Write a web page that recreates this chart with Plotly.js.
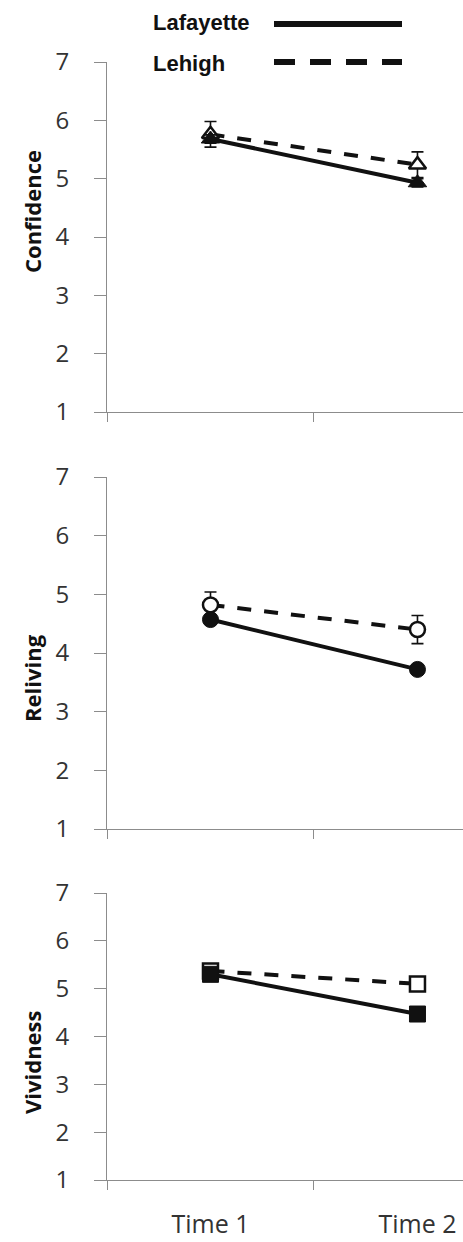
<!DOCTYPE html>
<html>
<head>
<meta charset="utf-8">
<script src="https://cdn.plot.ly/plotly-3.0.1.min.js"></script>
<style>html,body{margin:0;padding:0;background:#fff;}#chart{width:463px;height:1242px;}</style>
</head>
<body>
<div id="chart"></div>
<script>
const categories = ['Time 1', 'Time 2'];
const seriesNames = ['Lafayette', 'Lehigh'];
const panelTitles = ['Confidence', 'Reliving', 'Vividness'];
const yTicks = [1, 2, 3, 4, 5, 6, 7];

const confLafayette = [5.68, 4.93];
const confLafayetteErr = [0.07, 0.07];
const confLehigh = [5.76, 5.24];
const confLehighErr = [0.22, 0.22];

const relLafayette = [4.57, 3.72];
const relLafayetteErr = [0.08, 0.08];
const relLehigh = [4.82, 4.40];
const relLehighErr = [0.22, 0.24];

const vivLafayette = [5.30, 4.47];
const vivLafayetteErr = [0.08, 0.07];
const vivLehigh = [5.37, 5.10];
const vivLehighErr = [0.12, 0.13];

const panels = [
  {laf: confLafayette, lafErr: confLafayetteErr, leh: confLehigh, lehErr: confLehighErr, sym: 'triangle-up'},
  {laf: relLafayette, lafErr: relLafayetteErr, leh: relLehigh, lehErr: relLehighErr, sym: 'circle'},
  {laf: vivLafayette, lafErr: vivLafayetteErr, leh: vivLehigh, lehErr: vivLehighErr, sym: 'square'}
];

const W = 463, H = 1242;
const py = v => 1 - v / H;
const px = v => v / W;
const panelPx = [[62, 412], [477, 829], [893, 1180]];
const titlePx = [212, 678, 1062];

const traces = [];
panels.forEach((p, i) => {
  const ax = i === 0 ? '' : String(i + 1);
  traces.push({
    x: categories, y: p.leh, type: 'scatter', mode: 'lines+markers', name: seriesNames[1],
    xaxis: 'x' + ax, yaxis: 'y' + ax, showlegend: false, cliponaxis: false,
    line: {color: '#111', width: 4, dash: '14px,13px'},
    marker: {symbol: p.sym, size: 15, color: '#fff', line: {color: '#111', width: 2.5}},
    error_y: {type: 'data', array: p.lehErr, visible: true, color: '#111', thickness: 1.6, width: 6}
  });
  traces.push({
    x: categories, y: p.laf, type: 'scatter', mode: 'lines+markers', name: seriesNames[0],
    xaxis: 'x' + ax, yaxis: 'y' + ax, showlegend: false, cliponaxis: false,
    line: {color: '#111', width: 4},
    marker: {symbol: p.sym, size: 16, color: '#111', line: {color: '#111', width: 1}},
    error_y: {type: 'data', array: p.lafErr, visible: true, color: '#111', thickness: 1.6, width: 6}
  });
});

const layout = {
  width: W, height: H,
  margin: {l: 0, r: 0, t: 0, b: 0},
  paper_bgcolor: '#fff', plot_bgcolor: '#fff',
  showlegend: false,
  font: {family: 'Open Sans, sans-serif', color: '#333'},
  annotations: [],
  shapes: []
};

panels.forEach((p, i) => {
  const ax = i === 0 ? '' : String(i + 1);
  layout['xaxis' + ax] = {
    type: 'category', domain: [px(107), 1], range: [-0.5, 1.22],
    anchor: 'y' + ax, showline: true, linecolor: '#8c8c8c', linewidth: 1,
    ticks: 'outside', ticklen: 9, tickcolor: '#8c8c8c', tickson: 'boundaries',
    showgrid: false, zeroline: false,
    showticklabels: i === 2, ticklabelstandoff: 22,
    tickfont: {family: 'Open Sans, sans-serif', size: 25, color: '#333'}
  };
  layout['yaxis' + ax] = {
    domain: [py(panelPx[i][1]), py(panelPx[i][0])], range: [1, 7],
    anchor: 'x' + ax, showline: true, linecolor: '#8c8c8c', linewidth: 1,
    ticks: 'outside', ticklen: 12, tickcolor: '#8c8c8c',
    tickvals: yTicks, showgrid: false, zeroline: false,
    ticklabelstandoff: 20,
    tickfont: {family: 'Open Sans, sans-serif', size: 24, color: '#333'}
  };
  layout.annotations.push({
    text: '<b>' + panelTitles[i] + '</b>', textangle: -90, showarrow: false,
    xref: 'paper', yref: 'paper', x: px(32), y: py(titlePx[i]),
    xanchor: 'center', yanchor: 'middle',
    font: {family: 'Open Sans, sans-serif', size: 22, color: '#111'}
  });
});

// legend (text then line sample)
layout.annotations.push({
  text: '<b>' + seriesNames[0] + '</b>', showarrow: false, xref: 'paper', yref: 'paper',
  x: px(151), y: py(23), xanchor: 'left', yanchor: 'middle',
  font: {family: 'Liberation Sans, Arial, sans-serif', size: 22, color: '#111'}
});
layout.annotations.push({
  text: '<b>' + seriesNames[1] + '</b>', showarrow: false, xref: 'paper', yref: 'paper',
  x: px(151), y: py(63), xanchor: 'left', yanchor: 'middle',
  font: {family: 'Liberation Sans, Arial, sans-serif', size: 22, color: '#111'}
});
layout.shapes.push({type: 'line', xref: 'paper', yref: 'paper',
  x0: px(274), x1: px(402), y0: py(24), y1: py(24), line: {color: '#111', width: 6}});
layout.shapes.push({type: 'line', xref: 'paper', yref: 'paper',
  x0: px(274), x1: px(402), y0: py(62), y1: py(62), line: {color: '#111', width: 6, dash: '21px,15px'}});

Plotly.newPlot('chart', traces, layout, {staticPlot: true, displayModeBar: false});
</script>
</body>
</html>
